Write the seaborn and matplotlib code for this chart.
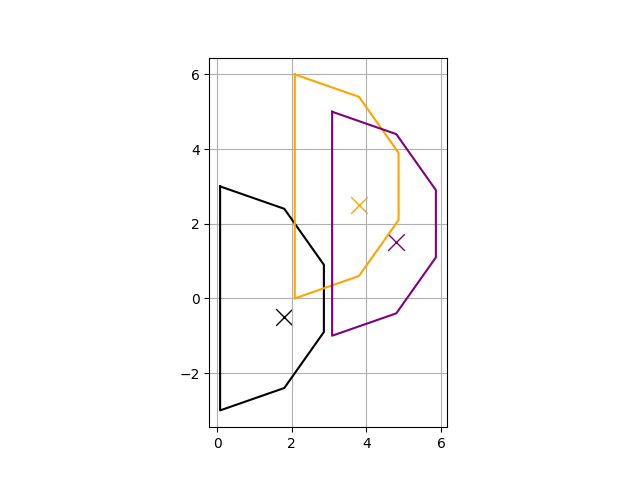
import matplotlib
matplotlib.use("Agg")
import matplotlib.pyplot as plt
import seaborn as sns

# Polygon vertices (closed by repeating the first point)
black_x = [0.08, 1.8, 2.86, 2.86, 1.8, 0.08, 0.08]
black_y = [3.0, 2.4, 0.9, -0.9, -2.4, -3.0, 3.0]
orange_x = [2.08, 3.8, 4.86, 4.86, 3.8, 2.08, 2.08]
orange_y = [6.0, 5.4, 3.9, 2.1, 0.6, 0.0, 6.0]
purple_x = [3.08, 4.8, 5.86, 5.86, 4.8, 3.08, 3.08]
purple_y = [5.0, 4.4, 2.9, 1.1, -0.4, -1.0, 5.0]

# Centre markers
centre_x = [1.8, 3.8, 4.8]
centre_y = [-0.5, 2.5, 1.5]
colors = ["black", "orange", "purple"]

fig, ax = plt.subplots(figsize=(6.4, 4.8), dpi=100)

polys = [(black_x, black_y), (orange_x, orange_y), (purple_x, purple_y)]
for (px, py), c in zip(polys, colors):
    sns.lineplot(x=px, y=py, sort=False, estimator=None, color=c, linewidth=1.5, ax=ax)

for cx, cy, c in zip(centre_x, centre_y, colors):
    sns.scatterplot(x=[cx], y=[cy], marker="x", s=144, color=c, linewidth=1.0, ax=ax)

ax.grid(True)
ax.set_aspect("equal")
ax.set_xticks([0, 2, 4, 6])
ax.set_yticks([-2, 0, 2, 4, 6])

fig.savefig("out.png", dpi=100)
